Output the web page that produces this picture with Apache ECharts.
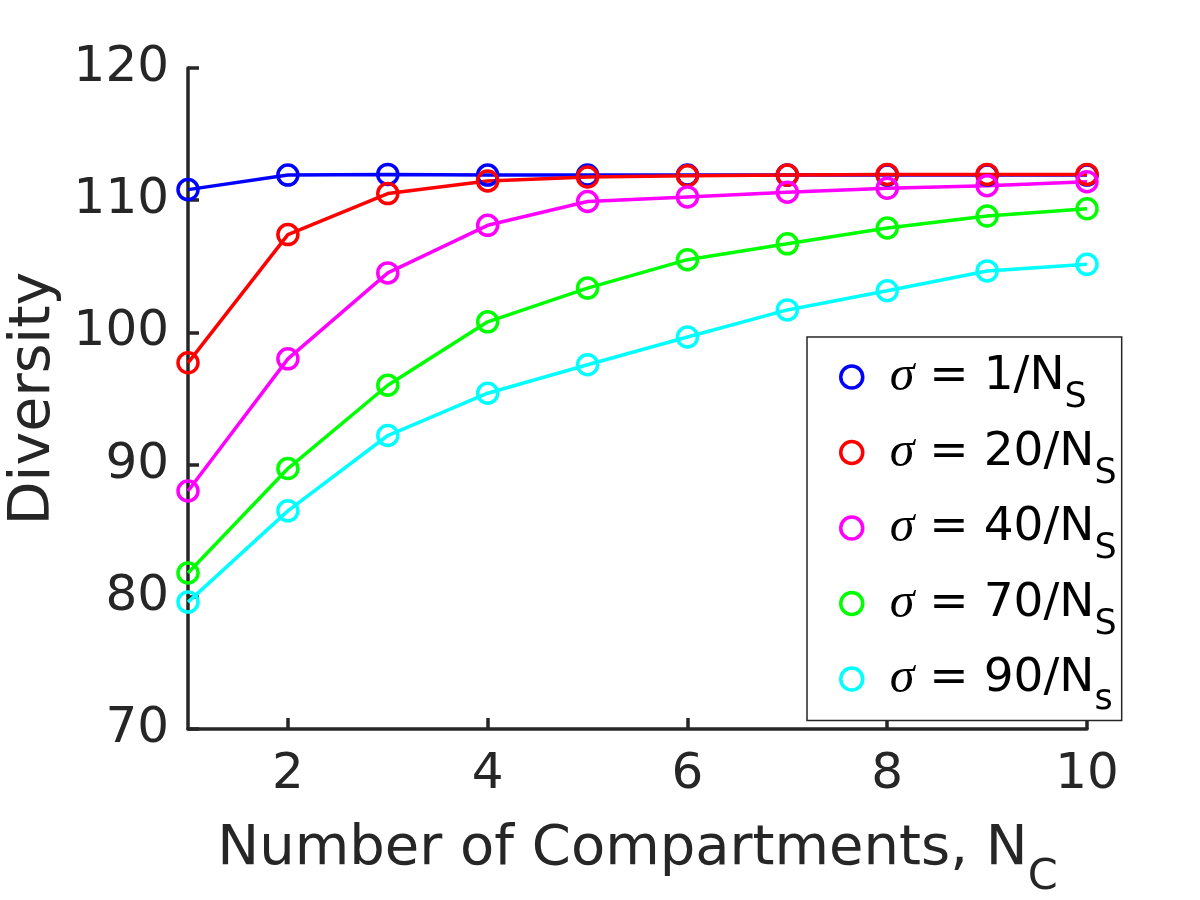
<!DOCTYPE html>
<html>
<head>
<meta charset="utf-8">
<title>Diversity vs Number of Compartments</title>
<script src="https://cdn.jsdelivr.net/npm/echarts@6/dist/echarts.min.js"></script>
<style>
  html, body { margin: 0; padding: 0; background: #fff; }
  #chart { width: 1200px; height: 900px; }
</style>
</head>
<body>
<div id="chart"></div>
<script>
// number of compartments N_C
var compartments = [1, 2, 3, 4, 5, 6, 7, 8, 9, 10];

// diversity for each sigma
var sigma1  = [110.8, 111.9, 111.95, 111.9, 111.9, 111.9, 111.9, 111.9, 111.9, 111.9];
var sigma20 = [97.7, 107.4, 110.5, 111.45, 111.75, 111.85, 111.9, 111.95, 111.95, 111.95];
var sigma40 = [88.0, 98.0, 104.5, 108.1, 109.9, 110.25, 110.6, 110.9, 111.1, 111.4];
var sigma70 = [81.8, 89.7, 96.0, 100.8, 103.35, 105.5, 106.7, 107.9, 108.8, 109.35];
var sigma90 = [79.6, 86.5, 92.2, 95.4, 97.55, 99.65, 101.7, 103.15, 104.65, 105.15];

var seriesNames = ['σ = 1/N_S', 'σ = 20/N_S', 'σ = 40/N_S', 'σ = 70/N_S', 'σ = 90/N_s'];
var seriesData = [sigma1, sigma20, sigma40, sigma70, sigma90];
var seriesColors = ['#0000ff', '#ff0000', '#ff00ff', '#00ff00', '#00ffff'];

var xTicks = [2, 4, 6, 8, 10];

var axisColor = '#262626';
var font = 'DejaVu Sans';

function pairs(ys) {
  var out = [];
  for (var i = 0; i < compartments.length; i++) {
    out.push([compartments[i], ys[i]]);
  }
  return out;
}

var series = seriesNames.map(function (name, k) {
  return {
    name: name,
    type: 'line',
    data: pairs(seriesData[k]),
    symbol: 'circle',
    symbolSize: 20,
    showAllSymbol: true,
    color: seriesColors[k],
    lineStyle: { color: seriesColors[k], width: 3.5 },
    itemStyle: { color: 'transparent', borderColor: seriesColors[k], borderWidth: 3.5 },
    emphasis: { disabled: true },
    animation: false
  };
});

var chart = echarts.init(document.getElementById('chart'));

chart.setOption({
  backgroundColor: '#ffffff',
  animation: false,
  textStyle: { fontFamily: font },
  grid: { left: 188, right: 113, top: 68, bottom: 171, containLabel: false, outerBoundsMode: 'none' },
  xAxis: {
    type: 'value',
    min: 1,
    max: 10,
    name: 'Number of Compartments, N{sub|C}',
    nameLocation: 'middle',
    nameGap: 71,
    nameTextStyle: {
      color: axisColor, fontFamily: font, fontSize: 56,
      rich: { sub: { color: axisColor, fontFamily: font, fontSize: 43, padding: [56, 0, 0, 0] } }
    },
    axisLine: { onZero: false, lineStyle: { color: axisColor, width: 3.5 } },
    axisTick: { inside: true, length: 11, customValues: xTicks, lineStyle: { color: axisColor, width: 3.5 } },
    axisLabel: { customValues: xTicks, color: axisColor, fontFamily: font, fontSize: 50, margin: 21 },
    splitLine: { show: false }
  },
  yAxis: {
    type: 'value',
    min: 70,
    max: 120,
    interval: 10,
    name: 'Diversity',
    nameLocation: 'middle',
    nameGap: 122,
    nameTextStyle: { color: axisColor, fontFamily: font, fontSize: 57 },
    axisLine: { show: true, onZero: false, lineStyle: { color: axisColor, width: 3.5 } },
    axisTick: { show: true, inside: true, length: 11, lineStyle: { color: axisColor, width: 3.5 } },
    axisLabel: { color: axisColor, fontFamily: font, fontSize: 50, margin: 19 },
    splitLine: { show: false }
  },
  legend: {
    orient: 'vertical',
    left: 807,
    top: 337,
    icon: 'circle',
    itemWidth: 22,
    itemHeight: 22,
    itemGap: 12,
    padding: [15, 5, 3, 32],
    backgroundColor: '#ffffff',
    borderColor: axisColor,
    borderWidth: 1.5,
    selectedMode: false,
    itemStyle: { color: 'transparent', borderWidth: 3.5 },
    data: seriesNames,
    formatter: function (name) {
      return name.replace(/^σ/, '{i|σ}').replace(/_(\w)$/, '{sub|$1}');
    },
    textStyle: {
      color: '#000000',
      fontFamily: font,
      fontSize: 47,
      padding: [0, 0, 0, 22],
      rich: {
        i: { fontFamily: 'Liberation Serif', fontStyle: 'italic', fontSize: 50, color: '#000000' },
        sub: { fontFamily: font, fontSize: 35, color: '#000000', padding: [42, 0, 0, 0] }
      }
    }
  },
  series: series
});
</script>
</body>
</html>
